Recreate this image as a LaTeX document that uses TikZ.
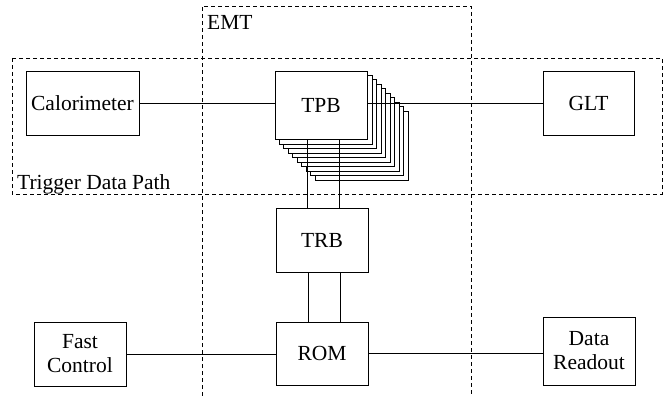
\documentclass[tikz,border=0pt]{standalone}
\usepackage{fontspec}
\setmainfont{Liberation Serif}
\newfontfamily\tmsfont{Liberation Serif}
\usetikzlibrary{backgrounds}
\newcommand{\Tx}[1]{\tmsfont\fontsize{21.5}{24}\selectfont #1}
\begin{document}
\begin{tikzpicture}[x=1pt,y=-1pt,
  box/.style={draw,line width=0.9pt,fill=white,inner sep=0pt,align=center,
    font=\tmsfont\fontsize{21.5}{24}\selectfont},
  conn/.style={line width=0.9pt},
  region/.style={draw,line width=0.8pt,dash pattern=on 4pt off 3pt},
  lbl/.style={inner sep=0pt}]
\useasboundingbox (0,0) rectangle (670,396);
% dashed regions
\draw[region] (12,58) rectangle (662,194);
\draw[region] (202,396) -- (202,6) -- (471,6) -- (471,396);
\node[lbl,anchor=base west] (emt) at (207,30) {\Tx{EMT}};
\node[lbl,anchor=base west] (tdp) at (17,189) {\Tx{Trigger Data Path}};
% boxes
\node[box,minimum width=113pt,minimum height=64pt] (cal) at (82.5,103) {\Tx{Calorimeter}};
\node[box,minimum width=92pt,minimum height=68pt] (tpb) at (321,105) {\Tx{TPB}};
\node[box,minimum width=91pt,minimum height=64pt] (glt) at (588.5,103) {\Tx{GLT}};
\node[box,minimum width=92pt,minimum height=64pt] (trb) at (322,240) {\Tx{TRB}};
\node[box,minimum width=92pt,minimum height=63pt] (rom) at (322,353.5) {\Tx{ROM}};
\node[box,minimum width=92pt,minimum height=64pt] (fc) at (80,354) {\Tx{Fast}\\\Tx{Control}};
\node[box,minimum width=92pt,minimum height=68pt] (dr) at (589,351) {\Tx{Data}\\\Tx{Readout}};
% stack behind TPB
\begin{scope}[on background layer]
\foreach \k in {9,8,...,1}{
  \draw[line width=0.9pt,fill=white]
    ([shift={(4.5*\k,4.5*\k)}]tpb.south west) rectangle ([shift={(4.5*\k,4.5*\k)}]tpb.north east);
}
\end{scope}
% connectors
\draw[conn] (cal.east) -- (cal.east -| tpb.west);
\draw[conn] (tpb.east |- glt.west) -- (glt.west);
\draw[conn] ([xshift=-13.5pt]tpb.south) -- ([xshift=-13.5pt]tpb.south |- trb.north);
\draw[conn] ([xshift=18.5pt]tpb.south) -- ([xshift=18.5pt]tpb.south |- trb.north);
\draw[conn] ([xshift=-13.5pt]trb.south) -- ([xshift=-13.5pt]trb.south |- rom.north);
\draw[conn] ([xshift=18.5pt]trb.south) -- ([xshift=18.5pt]trb.south |- rom.north);
\draw[conn] (fc.east) -- (fc.east -| rom.west);
\draw[conn] (rom.east) -- (rom.east -| dr.west);
\end{tikzpicture}
\end{document}
